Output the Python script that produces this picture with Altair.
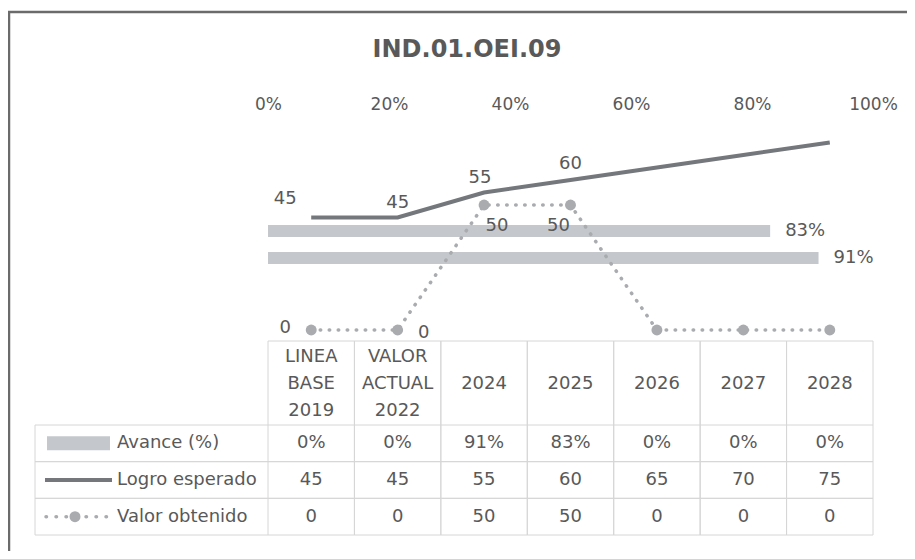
import altair as alt
import pandas as pd

# ---------------- data ----------------
categories = ["LINEA BASE 2019", "VALOR ACTUAL 2022", "2024", "2025", "2026", "2027", "2028"]
avance = [0.0, 0.0, 0.91, 0.83, 0.0, 0.0, 0.0]
logro_esperado = [45, 45, 55, 60, 65, 70, 75]
valor_obtenido = [0, 0, 50, 50, 0, 0, 0]
series_names = ["Avance (%)", "Logro esperado", "Valor obtenido"]
pct_ticks = [0, 0.2, 0.4, 0.6, 0.8, 1.0]
title_text = "IND.01.OEI.09"

# ---------------- style ----------------
FONT = "DejaVu Sans"
TXT = "#595959"
BAR = "#c4c8cd"
LOGRO = "#74787c"
VALOR = "#a9abae"
GRID = "#d6d6d6"
FRAME = "#6b6b6b"
W, H = 605, 223

df = pd.DataFrame({"cat": categories, "avance": avance,
                   "logro": logro_esperado, "valor": valor_obtenido})
rows_df = pd.DataFrame({"row": series_names})
tbl = []
for c, a, l, v in zip(categories, avance, logro_esperado, valor_obtenido):
    tbl.append({"cat": c, "row": series_names[0], "label": f"{round(a * 100):.0f}%"})
    tbl.append({"cat": c, "row": series_names[1], "label": f"{l}"})
    tbl.append({"cat": c, "row": series_names[2], "label": f"{v}"})
tbl = pd.DataFrame(tbl)
one = pd.DataFrame({"k": [0]})

# ---------------- scales ----------------
x_pt = alt.Scale(type="point", domain=categories, padding=0.5)
x_band = alt.Scale(type="band", domain=categories, paddingInner=0, paddingOuter=0)
y_val = alt.Scale(type="linear", domain=[0, 80], range=[212, 12], nice=False, zero=False)
y_bar = alt.Scale(type="band", domain=categories[::-1], range=[18.5, 207.5],
                  paddingInner=0, paddingOuter=0)
x_pct = alt.Scale(type="linear", domain=[0, 1], nice=False)
y_row = alt.Scale(type="band", domain=series_names, range=[307, 417],
                  paddingInner=0, paddingOuter=0)

txt = dict(font=FONT, color=TXT, fontSize=18)

# ---------------- frame & title ----------------
frame = alt.Chart(one).mark_rect(fill="transparent", stroke=FRAME, strokeWidth=2.5).encode(
    x=alt.value(-259), x2=alt.value(650), y=alt.value(-106), y2=alt.value(450))

title = alt.Chart(one).mark_text(text=title_text, font=FONT, fontSize=24, fontWeight="bold",
                                 color=TXT, align="center", baseline="middle").encode(
    x=alt.value(199), y=alt.value(-68))

# ---------------- table grid ----------------
vl = alt.Chart(df).mark_rule(color=GRID, strokeWidth=1).encode(
    x=alt.X("cat:N", scale=x_band, axis=None, bandPosition=0),
    y=alt.value(223), y2=alt.value(417))
vr = alt.Chart(df).mark_rule(color=GRID, strokeWidth=1).encode(
    x=alt.X("cat:N", scale=x_band, axis=None, bandPosition=1),
    y=alt.value(223), y2=alt.value(417))
htop = alt.Chart(one).mark_rule(color=GRID, strokeWidth=1).encode(
    x=alt.value(0), x2=alt.value(W), y=alt.value(223))
hl = alt.Chart(rows_df).mark_rule(color=GRID, strokeWidth=1).encode(
    x=alt.value(-233), x2=alt.value(W),
    y=alt.Y("row:N", scale=y_row, axis=None, bandPosition=0))
hb = alt.Chart(rows_df).mark_rule(color=GRID, strokeWidth=1).encode(
    x=alt.value(-233), x2=alt.value(W),
    y=alt.Y("row:N", scale=y_row, axis=None, bandPosition=1))
vleft = alt.Chart(one).mark_rule(color=GRID, strokeWidth=1).encode(
    x=alt.value(-233), y=alt.value(307), y2=alt.value(417))

# ---------------- bars (Avance) ----------------
bars = alt.Chart(df).transform_filter("datum.avance > 0").mark_bar(size=12, color=BAR).encode(
    x=alt.X("avance:Q", scale=x_pct,
            axis=alt.Axis(orient="top", format="%", values=pct_ticks, ticks=False, tickSize=0,
                          domain=False, grid=False, labelFlush=False, labelPadding=5,
                          labelFont=FONT, labelFontSize=17, labelColor=TXT, title=None)),
    y=alt.Y("cat:N", scale=y_bar, axis=None))
bar_lbl = alt.Chart(df).transform_filter("datum.avance > 0").mark_text(
    align="left", dx=15, **txt).encode(
    x=alt.X("avance:Q", scale=x_pct, axis=None),
    y=alt.Y("cat:N", scale=y_bar, axis=None),
    text=alt.Text("avance:Q", format=".0%"))

# ---------------- lines ----------------
xenc = alt.X("cat:N", scale=x_pt, sort=categories, axis=None)
logro_line = alt.Chart(df).mark_line(color=LOGRO, strokeWidth=4).encode(
    x=xenc, y=alt.Y("logro:Q", scale=y_val, axis=None))
valor_line = alt.Chart(df).mark_line(color=VALOR, strokeWidth=3.5, strokeDash=[0.5, 8.5],
                                     strokeCap="round").encode(
    x=xenc, y=alt.Y("valor:Q", scale=y_val, axis=None))
valor_pts = alt.Chart(df).mark_circle(size=120, color=VALOR, opacity=1).encode(
    x=xenc, y=alt.Y("valor:Q", scale=y_val, axis=None))


def lbl(field, cat, dx, dy):
    return alt.Chart(df).transform_filter(alt.datum.cat == cat).mark_text(
        dx=dx, dy=dy, **txt).encode(
        x=alt.X("cat:N", scale=x_pt, axis=None),
        y=alt.Y(f"{field}:Q", scale=y_val, axis=None),
        text=f"{field}:Q")


labels = [
    lbl("logro", categories[0], -26, -19),
    lbl("logro", categories[1], 0, -15),
    lbl("logro", categories[2], -4, -15),
    lbl("logro", categories[3], 0, -16),
    lbl("valor", categories[0], -26, -2),
    lbl("valor", categories[1], 26, 3),
    lbl("valor", categories[2], 13, 21),
    lbl("valor", categories[3], -12, 21),
]

# ---------------- table text ----------------
header_multi = alt.Chart(df).transform_filter("indexof(datum.cat, ' ') >= 0").mark_text(
    lineBreak=" ", lineHeight=27, dy=-27, **txt).encode(
    x=alt.X("cat:N", scale=x_pt, axis=None), y=alt.value(266), text="cat:N")
header_single = alt.Chart(df).transform_filter("indexof(datum.cat, ' ') < 0").mark_text(
    **txt).encode(
    x=alt.X("cat:N", scale=x_pt, axis=None), y=alt.value(266), text="cat:N")
cells = alt.Chart(tbl).mark_text(**txt).encode(
    x=alt.X("cat:N", scale=x_pt, axis=None),
    y=alt.Y("row:N", scale=y_row, axis=None), text="label:N")
row_lbl = alt.Chart(rows_df).mark_text(align="left", **txt).encode(
    x=alt.value(-151), y=alt.Y("row:N", scale=y_row, axis=None), text="row:N")

key_av = alt.Chart(rows_df).transform_filter(alt.datum.row == series_names[0]).mark_rule(
    strokeWidth=14, color=BAR).encode(
    x=alt.value(-221), x2=alt.value(-158),
    y=alt.Y("row:N", scale=y_row, axis=None, bandPosition=0.5))
key_lo = alt.Chart(rows_df).transform_filter(alt.datum.row == series_names[1]).mark_rule(
    strokeWidth=4, color=LOGRO).encode(
    x=alt.value(-223), x2=alt.value(-156),
    y=alt.Y("row:N", scale=y_row, axis=None, bandPosition=0.5))
key_va = alt.Chart(rows_df).transform_filter(alt.datum.row == series_names[2]).mark_rule(
    strokeWidth=3.5, color=VALOR, strokeDash=[0.5, 9.5], strokeCap="round").encode(
    x=alt.value(-222), x2=alt.value(-158),
    y=alt.Y("row:N", scale=y_row, axis=None, bandPosition=0.5))
key_vp = alt.Chart(rows_df).transform_filter(alt.datum.row == series_names[2]).mark_circle(
    size=120, color=VALOR, opacity=1).encode(
    x=alt.value(-193),
    y=alt.Y("row:N", scale=y_row, axis=None))

chart = alt.layer(
    frame, title, vl, vr, htop, hl, hb, vleft,
    bars, bar_lbl, logro_line, valor_line, valor_pts, *labels,
    header_multi, header_single, cells, row_lbl, key_av, key_lo, key_va, key_vp,
).resolve_scale(x="independent", y="independent").properties(
    width=W, height=H,
    padding={"left": 260, "top": 110, "right": 34, "bottom": 210},
    autosize=alt.AutoSizeParams(type="none"),
    background="white",
).configure_view(strokeWidth=0)

chart.save("out.html", embed_options={"renderer": "svg", "actions": False})
